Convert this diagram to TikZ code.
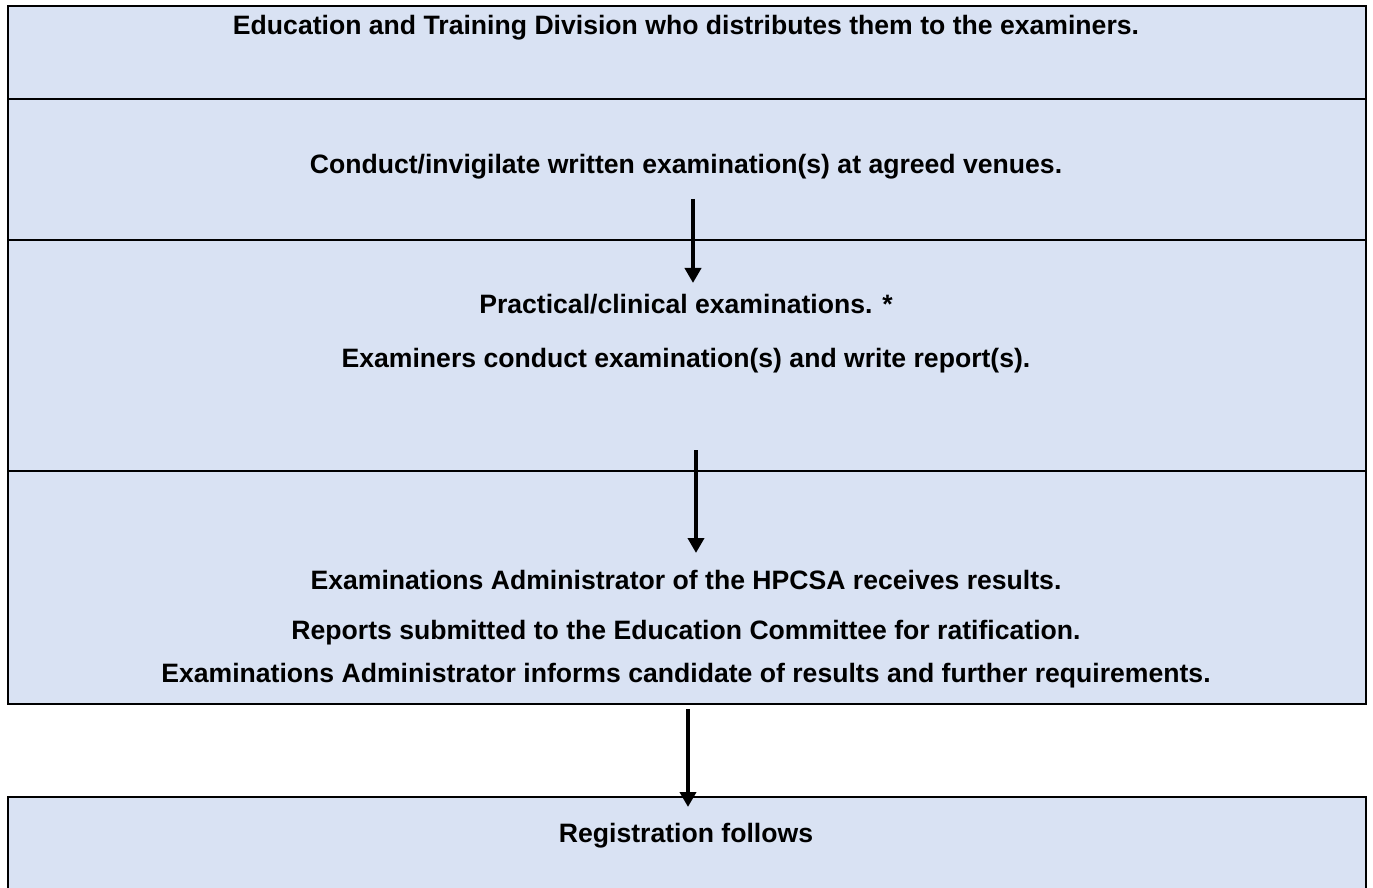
\documentclass[tikz,border=0pt]{standalone}
\usepackage{fontspec}
\setmainfont{Liberation Sans}
\usetikzlibrary{arrows.meta}
\definecolor{boxfill}{HTML}{D9E2F3}
\tikzset{
  stagebox/.style={draw=black, line width=1.4pt, fill=boxfill},
  lbl/.style={anchor=base, inner sep=0pt, font=\fontsize{13.3pt}{15pt}\selectfont\bfseries},
  flow/.style={line width=2pt, -{Triangle[width=8pt,length=7.5pt]}}
}
\begin{document}
\begin{tikzpicture}[x=0.5pt,y=-0.5pt]
\useasboundingbox (0,0) rectangle (1373,888);
\clip (0,0) rectangle (1373,888);
\path[stagebox] (8,6) rectangle (1366,99) coordinate (b1);
\path[stagebox] (8,99) rectangle (1366,240) coordinate (b2);
\path[stagebox] (8,240) rectangle (1366,471) coordinate (b3);
\path[stagebox] (8,471) rectangle (1366,704) coordinate (b4);
\path[stagebox] (8,797) rectangle (1366,900) coordinate (b5);
\node[lbl] (t1) at (686,35) {Education and Training Division who distributes them to the examiners.};
\node[lbl] (t2) at (686,174) {Conduct/invigilate written examination(s) at agreed venues.};
\node[lbl] (t3) at (686,314) {Practical/clinical examinations. *};
\node[lbl] (t4) at (686,367) {Examiners conduct examination(s) and write report(s).};
\node[lbl] (t5) at (686,589) {Examinations Administrator of the HPCSA receives results.};
\node[lbl] (t6) at (686,639) {Reports submitted to the Education Committee for ratification.};
\node[lbl] (t7) at (686,682) {Examinations Administrator informs candidate of results and further requirements.};
\node[lbl] (t8) at (686,842) {Registration follows};
\coordinate (a1s) at (693,199);
\coordinate (a1e) at (693,283);
\coordinate (a2s) at (696,450);
\coordinate (a2e) at (696,553);
\coordinate (a3s) at (688,709);
\coordinate (a3e) at (688,807);
\draw[flow] (a1s) -- (a1e);
\draw[flow] (a2s) -- (a2e);
\draw[flow] (a3s) -- (a3e);
\end{tikzpicture}
\end{document}
